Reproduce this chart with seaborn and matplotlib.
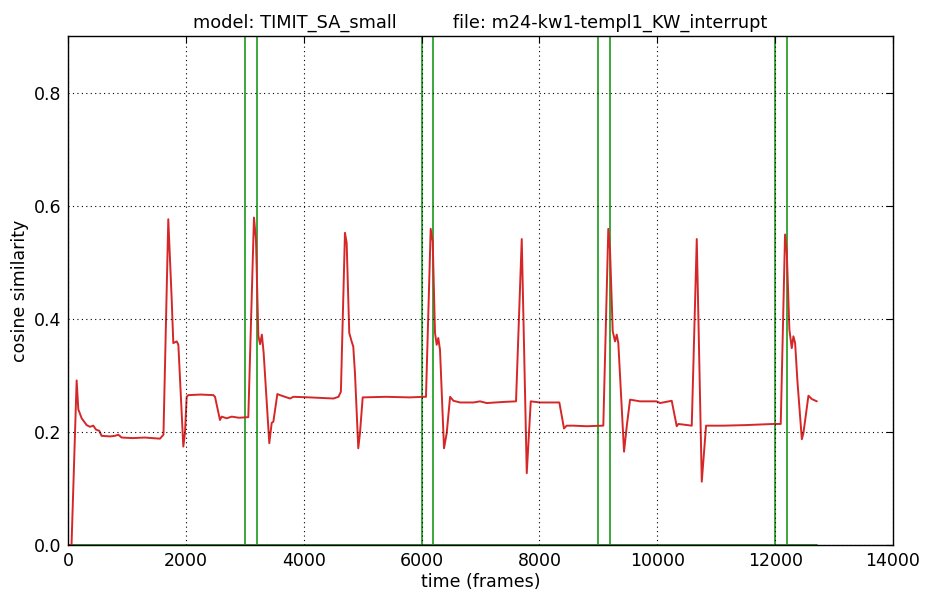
import matplotlib
matplotlib.use("Agg")
import matplotlib.pyplot as plt
import seaborn as sns
import pandas as pd

# ---- data ----
frames = [0, 60, 147, 175, 232, 317, 373, 430, 475, 530, 570, 713, 798, 854, 910, 1100, 1300, 1561, 1620,
          1702, 1760, 1787, 1845, 1873, 1957, 1985, 2014, 2042, 2250, 2466, 2495, 2579, 2608, 2693, 2778, 2900, 3060,
          3156, 3190, 3230, 3260, 3290, 3320, 3416, 3457, 3485, 3553, 3598, 3768, 3825, 4100, 4504, 4590, 4631,
          4700, 4729, 4773, 4813, 4841, 4870, 4926, 4955, 5001, 5400, 5800, 6029, 6075,
          6155, 6189, 6228, 6257, 6284, 6313, 6381, 6427, 6484, 6541, 6653, 6880, 6992, 7105, 7400, 7603,
          7700, 7785, 7853, 8010, 8338, 8417, 8462, 8575, 8801, 9084,
          9169, 9198, 9244, 9283, 9312, 9339, 9436, 9482, 9538, 9707, 9990, 10047, 10245, 10330, 10358, 10585,
          10670, 10755, 10828, 11122, 11500, 11970, 12095,
          12168, 12197, 12242, 12282, 12310, 12339, 12378, 12453, 12480, 12565, 12623, 12708]
similarity = [0.0, 0.0, 0.291, 0.24, 0.224, 0.212, 0.209, 0.211, 0.204, 0.202, 0.193, 0.192, 0.193, 0.195, 0.19, 0.189, 0.19, 0.188, 0.195,
              0.576, 0.434, 0.357, 0.36, 0.354, 0.174, 0.198, 0.262, 0.265, 0.266, 0.265, 0.262, 0.221, 0.227, 0.224, 0.227, 0.225, 0.226,
              0.579, 0.54, 0.37, 0.355, 0.372, 0.34, 0.18, 0.216, 0.218, 0.267, 0.265, 0.259, 0.262, 0.261, 0.259, 0.262, 0.271,
              0.552, 0.534, 0.375, 0.36, 0.351, 0.304, 0.171, 0.198, 0.261, 0.262, 0.261, 0.262, 0.262,
              0.559, 0.537, 0.375, 0.354, 0.366, 0.345, 0.171, 0.198, 0.262, 0.255, 0.252, 0.252, 0.254, 0.251, 0.253, 0.254,
              0.541, 0.127, 0.254, 0.252, 0.252, 0.206, 0.211, 0.211, 0.21, 0.211,
              0.559, 0.522, 0.378, 0.36, 0.372, 0.357, 0.165, 0.21, 0.257, 0.254, 0.254, 0.251, 0.255, 0.21, 0.214, 0.211,
              0.541, 0.112, 0.211, 0.211, 0.212, 0.214, 0.214,
              0.549, 0.519, 0.381, 0.348, 0.369, 0.357, 0.29, 0.187, 0.198, 0.264, 0.258, 0.254]

baseline_frames = [0, 12708]
baseline_vals = [0.0, 0.0]

keyword_bounds = [3000, 3200, 6000, 6200, 9000, 9200, 12000, 12200]

x_ticks = [0, 2000, 4000, 6000, 8000, 10000, 12000, 14000]
y_ticks = [0.0, 0.2, 0.4, 0.6, 0.8]

title_text = "model: TIMIT_SA_small          file: m24-kw1-templ1_KW_interrupt"

# ---- plot ----
sns.set_style("white")
plt.rcParams["font.family"] = ["DejaVu Sans"]
plt.rcParams["text.color"] = "black"
plt.rcParams["axes.labelcolor"] = "black"

fig = plt.figure(figsize=(9.25, 5.94), dpi=100)
ax = fig.add_axes([0.0735, 0.0825, 0.8919, 0.8569])

df = pd.DataFrame({"frame": frames, "sim": similarity})
sns.lineplot(data=df, x="frame", y="sim", ax=ax, color="#d62728", linewidth=1.4,
             estimator=None, sort=False, zorder=2)
sns.lineplot(x=baseline_frames, y=baseline_vals, ax=ax, color="#2ca02c", linewidth=1.4,
             estimator=None, zorder=1.8)
for b in keyword_bounds:
    ax.axvline(b, color="#2ca02c", linewidth=1.3, zorder=1.8)

ax.set_xlim(0, 14000)
ax.set_ylim(0, 0.9)
ax.set_xticks(x_ticks)
ax.set_yticks(y_ticks)
ax.set_xticklabels([str(t) for t in x_ticks])
ax.set_yticklabels([f"{t:.1f}" for t in y_ticks])

ax.set_axisbelow(False)
ax.grid(True, color="black", linestyle=(0, (1, 3)), linewidth=0.8, zorder=2.5)
for sp in ax.spines.values():
    sp.set_color("black")
    sp.set_linewidth(1.0)
ax.tick_params(direction="in", length=5, width=0.8, top=True, right=True,
               labelsize=12.5, colors="black", pad=5)
ax.set_xlabel("time (frames)", fontsize=12.5, labelpad=2, color="black")
ax.set_ylabel("cosine similarity", fontsize=12.5, labelpad=3, color="black")
ax.set_title(title_text, fontsize=12.8, pad=6, color="black")

fig.savefig("out.png", dpi=100)
